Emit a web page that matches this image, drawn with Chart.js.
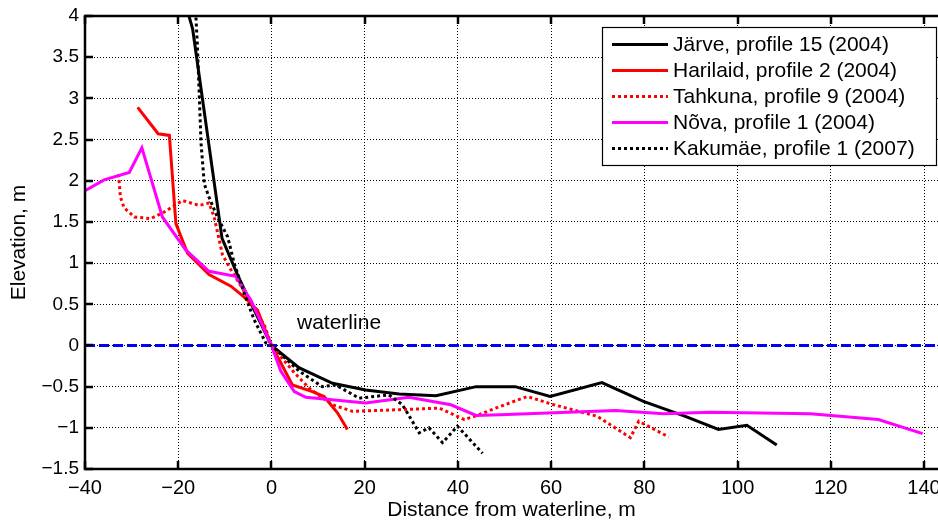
<!DOCTYPE html>
<html>
<head>
<meta charset="utf-8">
<script src="https://cdn.jsdelivr.net/npm/chart.js@4/dist/chart.umd.min.js"></script>
<style>
  html, body { margin: 0; padding: 0; background: #fff; }
  canvas { display: block; }
</style>
</head>
<body>
<canvas id="c" width="938" height="525"></canvas>
<script>
// ---- Data ----
const jarveX = [-19.2, -16.9, -10.6, -7.3, -4.4, 0, 5.9, 13.1, 20.2, 27.4, 35.3, 43.9, 52.3, 59.8, 70.9, 79.8, 88.8, 95.9, 102, 108.4];
const jarveY = [4.3, 3.84, 1.30, 0.86, 0.51, 0, -0.27, -0.46, -0.54, -0.59, -0.61, -0.50, -0.50, -0.62, -0.45, -0.68, -0.86, -1.02, -0.97, -1.21];

const harilaidX = [-28.7, -24.3, -21.9, -20.5, -18.0, -13.4, -8.7, -5.9, -3.0, 0, 2.0, 4.5, 8.8, 11.3, 14.2, 16.3];
const harilaidY = [2.89, 2.57, 2.55, 1.48, 1.12, 0.86, 0.72, 0.59, 0.43, 0, -0.21, -0.48, -0.56, -0.62, -0.82, -1.02];

const tahkunaX = [-32.8, -32.4, -31.6, -29.4, -25.9, -23.0, -19.1, -15.5, -13.4, -12.3, -10.5, -8.7, -5.0, -1.4, 0, 4.9, 8.1, 13.1, 17.4, 27.4, 36.0, 41.4, 44.6, 48.1, 54.9, 60.6, 69.9, 77.0, 78.8, 85.2];
const tahkunaY = [2.08, 1.80, 1.67, 1.56, 1.54, 1.62, 1.76, 1.70, 1.73, 1.56, 1.10, 0.92, 0.58, 0.23, 0, -0.33, -0.52, -0.72, -0.80, -0.78, -0.76, -0.90, -0.84, -0.76, -0.62, -0.72, -0.86, -1.12, -0.92, -1.11];

const novaX = [-40, -35.9, -30.5, -27.8, -23.4, -18.4, -13.4, -7.7, -4.4, 0, 2.0, 4.9, 7.4, 20.2, 29.5, 38.5, 43.9, 49.1, 73.8, 84.1, 94.1, 115.6, 130.2, 139.7];
const novaY = [1.88, 2.01, 2.10, 2.40, 1.56, 1.16, 0.90, 0.84, 0.55, 0, -0.31, -0.56, -0.63, -0.70, -0.63, -0.72, -0.85, -0.84, -0.79, -0.83, -0.81, -0.83, -0.90, -1.07];

const kakumaeX = [-16.4, -15.9, -15.1, -14.4, -13.4, -11.6, -9.4, -8.0, -5.9, -3.7, -1.2, 0, 5.9, 10.9, 13.8, 18.8, 25.2, 28.1, 31.7, 33.8, 36.7, 39.9, 45.3];
const kakumaeY = [4.2, 3.66, 2.45, 1.96, 1.80, 1.56, 1.32, 1.0, 0.64, 0.31, 0.03, 0, -0.31, -0.50, -0.48, -0.64, -0.60, -0.72, -1.06, -1.00, -1.18, -0.98, -1.31];

const waterlineX = [-40, 143];
const waterlineY = [0, 0];

const seriesLabels = [
  "Järve, profile 15 (2004)",
  "Harilaid, profile 2 (2004)",
  "Tahkuna, profile 9 (2004)",
  "Nõva, profile 1 (2004)",
  "Kakumäe, profile 1 (2007)"
];
const xTicks = [-40, -20, 0, 20, 40, 60, 80, 100, 120, 140];
const yTicks = [-1.5, -1, -0.5, 0, 0.5, 1, 1.5, 2, 2.5, 3, 3.5, 4];
const xTitle = "Distance from waterline, m";
const yTitle = "Elevation, m";
const waterText = "waterline";

// ---- helpers ----
const pts = (xs, ys) => xs.map((x, i) => ({ x: x, y: ys[i] }));
const FONT = "'Liberation Sans', Arial, Helvetica, sans-serif";
const fmt = v => String(v).replace('-', '\u2212');

const common = { pointRadius: 0, pointHoverRadius: 0, tension: 0, fill: false, clip: 0, borderCapStyle: 'butt', borderJoinStyle: 'miter' };

const datasets = [
  Object.assign({ label: seriesLabels[0], data: pts(jarveX, jarveY), borderColor: '#000000', borderWidth: 3, order: 5 }, common),
  Object.assign({ label: seriesLabels[1], data: pts(harilaidX, harilaidY), borderColor: '#ff0000', borderWidth: 3, order: 4 }, common),
  Object.assign({ label: seriesLabels[2], data: pts(tahkunaX, tahkunaY), borderColor: '#ff0000', borderWidth: 3, borderDash: [3, 3], order: 3 }, common),
  Object.assign({ label: seriesLabels[3], data: pts(novaX, novaY), borderColor: '#ff00ff', borderWidth: 3, order: 2 }, common),
  Object.assign({ label: seriesLabels[4], data: pts(kakumaeX, kakumaeY), borderColor: '#000000', borderWidth: 3, borderDash: [3, 3], order: 1 }, common),
  Object.assign({ label: '__waterline', data: pts(waterlineX, waterlineY), borderColor: '#0000ff', borderWidth: 3, borderDash: [10, 4], order: 6 }, common)
];

const bgPlugin = {
  id: 'bg',
  beforeDraw(chart) {
    const c = chart.ctx;
    c.save(); c.fillStyle = '#fff'; c.fillRect(0, 0, chart.width, chart.height); c.restore();
  }
};

const framePlugin = {
  id: 'frame',
  afterDatasetsDraw(chart) {
    const c = chart.ctx, a = chart.chartArea;
    const xs = chart.scales.x, ys = chart.scales.y;
    c.save();
    // waterline label
    c.fillStyle = '#000';
    c.font = '21px ' + FONT;
    c.textAlign = 'center'; c.textBaseline = 'middle';
    c.fillText(waterText, xs.getPixelForValue(14.5), ys.getPixelForValue(0.27));

    // axis frame
    c.strokeStyle = '#000'; c.lineWidth = 2.5;
    c.beginPath();
    c.moveTo(a.right + 2, a.top); c.lineTo(a.left, a.top); c.lineTo(a.left, a.bottom); c.lineTo(a.right + 2, a.bottom);
    c.stroke();
    // inward ticks
    const L = 8;
    c.beginPath();
    xTicks.forEach(v => {
      const px = Math.round(xs.getPixelForValue(v));
      c.moveTo(px, a.bottom); c.lineTo(px, a.bottom - L);
      c.moveTo(px, a.top); c.lineTo(px, a.top + L);
    });
    yTicks.forEach(v => {
      const py = Math.round(ys.getPixelForValue(v));
      c.moveTo(a.left, py); c.lineTo(a.left + L, py);
    });
    c.stroke();

    // legend box
    const bx = 602, by = 27, bw = 334, bh = 138;
    c.fillStyle = '#fff';
    c.fillRect(bx, by, bw, bh);
    c.strokeStyle = '#000'; c.lineWidth = 1.2;
    c.strokeRect(bx + 0.5, by + 0.5, bw, bh);
    c.font = '21px ' + FONT;
    c.textAlign = 'left'; c.textBaseline = 'middle';
    const rowY = [44.5, 70.5, 96.5, 122.5, 148.5];
    chart.data.datasets.forEach((ds, i) => {
      if (i >= seriesLabels.length) return;
      const y = rowY[i];
      c.save();
      c.strokeStyle = ds.borderColor; c.lineWidth = ds.borderWidth;
      c.setLineDash(ds.borderDash || []);
      c.beginPath(); c.moveTo(612, y); c.lineTo(668, y); c.stroke();
      c.restore();
      c.fillStyle = '#000';
      c.fillText(ds.label, 673, y + 1);
    });
    c.restore();
  }
};

new Chart(document.getElementById('c'), {
  type: 'line',
  data: { datasets: datasets },
  options: {
    responsive: false,
    animation: false,
    events: [],
    layout: { padding: { top: 16, right: 0, left: 0, bottom: 0 } },
    plugins: { legend: { display: false }, tooltip: { enabled: false }, title: { display: false } },
    scales: {
      x: {
        type: 'linear', min: -40, max: 143,
        afterBuildTicks: s => { s.ticks = xTicks.map(v => ({ value: v })); },
        afterFit: s => { s.height = 56; s.paddingLeft = 0; s.paddingRight = 0; },
        ticks: { includeBounds: false, autoSkip: false, maxRotation: 0, padding: 7, color: '#000', font: { family: FONT, size: 20 }, callback: v => fmt(v) },
        grid: { color: '#000', lineWidth: 1, drawTicks: false, tickLength: 0 },
        border: { display: false, dash: [1, 2] },
        title: { display: true, text: xTitle, color: '#000', font: { family: FONT, size: 21 }, padding: { top: 0, bottom: 2 } }
      },
      y: {
        type: 'linear', min: -1.5, max: 4,
        afterBuildTicks: s => { s.ticks = yTicks.map(v => ({ value: v })); },
        afterFit: s => { s.width = 85; s.paddingTop = 0; s.paddingBottom = 0; },
        ticks: { includeBounds: false, autoSkip: false, padding: 6, color: '#000', font: { family: FONT, size: 19 }, callback: v => fmt(v) },
        grid: { color: '#000', lineWidth: 1, drawTicks: false, tickLength: 0 },
        border: { display: false, dash: [1, 2] },
        title: { display: true, text: yTitle, color: '#000', font: { family: FONT, size: 21 }, padding: { top: 7, bottom: 0 } }
      }
    }
  },
  plugins: [bgPlugin, framePlugin]
});
</script>
</body>
</html>
